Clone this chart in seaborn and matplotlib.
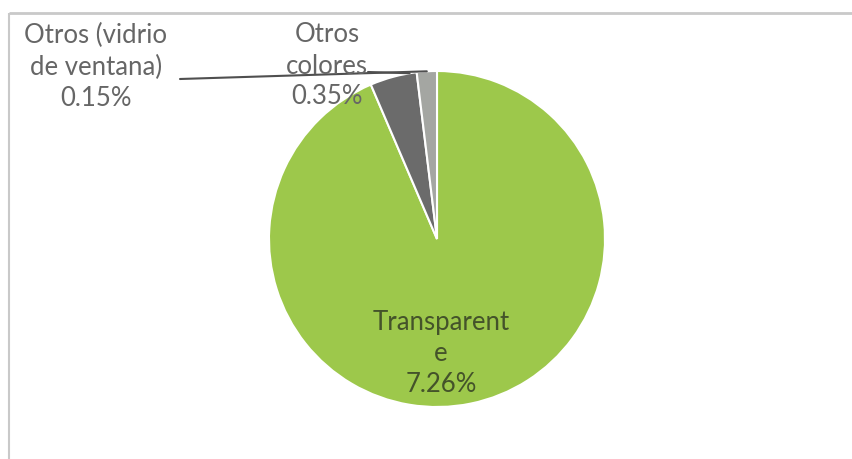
import matplotlib
matplotlib.use("Agg")
import numpy as np
import matplotlib.pyplot as plt
import seaborn as sns

# Glass composition shares (percent)
categories = ["Transparente", "Otros colores", "Otros (vidrio de ventana)"]
values = [7.26, 0.35, 0.15]
label_texts = ["Transparent\ne\n7.26%", "Otros\ncolores\n0.35%", "Otros (vidrio\nde ventana)\n0.15%"]

sns.set_theme(style="white")
plt.rcParams["font.family"] = ["Lato", "DejaVu Sans"]

palette = ["#9dc84b", "#6b6b6b", "#a4a6a2"]

W, H = 853, 460
fig = plt.figure(figsize=(W / 100, H / 100), dpi=100)
fig.patch.set_facecolor("white")
ax = fig.add_axes([0, 0, 1, 1])

cx, cy, r = 437, H - 240, 168
wedges, _ = ax.pie(values, colors=palette, startangle=90, counterclock=False,
                   center=(cx, cy), radius=r, frame=True,
                   wedgeprops=dict(edgecolor="white", linewidth=1.5))
ax.set_xlim(0, W)
ax.set_ylim(0, H)
ax.set_axis_off()

# chart frame (top and left edges)
frame_col = "#c9c9c9"
ax.plot([9, W], [H - 14, H - 14], color=frame_col, lw=2, solid_capstyle="butt")
ax.plot([9, 9], [H - 14, 0], color=frame_col, lw=1.5, solid_capstyle="butt")

txt_col = "#666666"
fs = 18.5
ls = 1.3

# label inside the large slice
ax.text(cx + 4, H - 354, label_texts[0], ha="center", va="center",
        fontsize=fs, color="#44532a", linespacing=ls)

# outside labels
ax.text(96, H - 67, label_texts[2], ha="center", va="center",
        fontsize=fs, color=txt_col, linespacing=ls)
ax.text(327, H - 66, label_texts[1], ha="center", va="center",
        fontsize=fs, color=txt_col, linespacing=ls)

# leader lines to the thin slices
def arc_point(w, frac):
    t1, t2 = sorted([w.theta1, w.theta2])
    a = np.deg2rad(t1 + (t2 - t1) * frac)
    return cx + r * np.cos(a), cy + r * np.sin(a)

px, py = arc_point(wedges[2], 0.5)
ax.plot([180, px], [H - 80, py], color="#4f4f4f", lw=1.5)
qx, qy = arc_point(wedges[1], 0.15)
ax.plot([368, qx], [H - 73, qy], color="#4f4f4f", lw=1.5)

fig.savefig("out.png", dpi=100, facecolor="white")
